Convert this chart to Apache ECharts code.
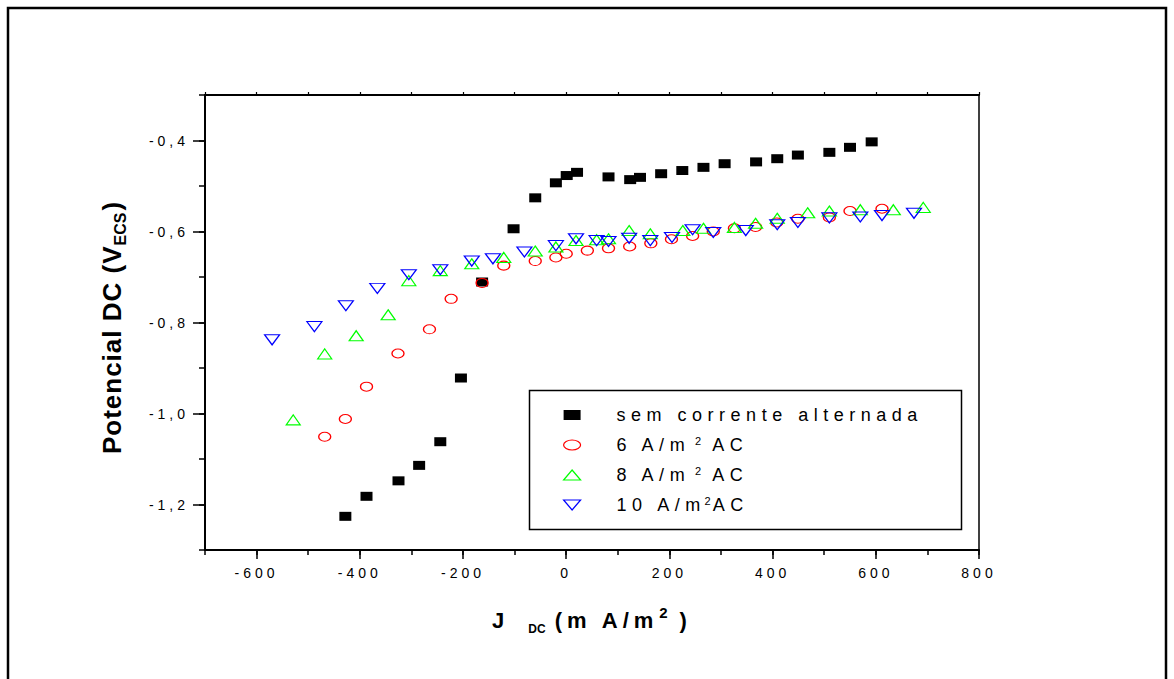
<!DOCTYPE html>
<html><head><meta charset="utf-8">
<script src="https://cdn.jsdelivr.net/npm/echarts@6/dist/echarts.min.js"></script>
<style>
html,body{margin:0;padding:0;background:#fff;}
#main{width:1174px;height:679px;}
#main text{letter-spacing:0;}
#main text[style*="14px"]{letter-spacing:4px;}
#main text[style*="18px"]{letter-spacing:5.5px;}
#main text[style*="22px"]{letter-spacing:5px;}
#main text[style*="26px"]{letter-spacing:1px;}
</style></head><body><div id="main"></div>
<script>
// ---- data ----
const seriesNames = ['sem corrente alternada', '6 A/m² AC', '8 A/m² AC', '10 A/m²AC'];
const xLabelValues = [-600, -400, -200, 0, 200, 400, 600, 800];
const yLabelValues = [-1.2, -1.0, -0.8, -0.6, -0.4];

const blackX = [-428,-387,-325,-285,-244,-204,-163,-102,-60,-20,1,21,82,124,143,184,225,266,307,368,409,449,510,550,592];
const blackY = [-1.226,-1.182,-1.148,-1.114,-1.062,-0.922,-0.711,-0.594,-0.526,-0.493,-0.477,-0.470,-0.480,-0.486,-0.481,-0.473,-0.466,-0.459,-0.451,-0.447,-0.440,-0.432,-0.426,-0.415,-0.403];

const redX = [-468,-428,-387,-326,-265,-223,-163,-121,-60,-20,0,41,82,123,164,204,245,285,326,367,408,449,510,550,612];
const redY = [-1.051,-1.012,-0.941,-0.868,-0.815,-0.748,-0.713,-0.675,-0.665,-0.657,-0.649,-0.642,-0.637,-0.633,-0.626,-0.617,-0.610,-0.600,-0.593,-0.590,-0.580,-0.572,-0.569,-0.555,-0.550];

const greenX = [-529,-468,-407,-345,-305,-244,-183,-121,-60,-20,19,59,82,122,163,226,266,326,367,409,468,510,570,634,692];
const greenY = [-1.014,-0.869,-0.829,-0.783,-0.708,-0.686,-0.671,-0.657,-0.643,-0.634,-0.620,-0.618,-0.616,-0.598,-0.605,-0.598,-0.593,-0.591,-0.582,-0.571,-0.559,-0.555,-0.552,-0.552,-0.547];

const blueX = [-570,-488,-427,-366,-305,-244,-183,-142,-81,-20,19,59,82,122,163,205,245,285,348,409,449,510,570,612,674];
const blueY = [-0.838,-0.809,-0.763,-0.725,-0.695,-0.684,-0.665,-0.660,-0.645,-0.631,-0.616,-0.620,-0.622,-0.615,-0.620,-0.613,-0.596,-0.602,-0.598,-0.585,-0.580,-0.570,-0.568,-0.565,-0.560];

// ---- helpers ----
const FONT = 'Liberation Sans, Arial, sans-serif';
const SP = {14: 4, 18: 5.5, 22: 5, 26: 1};
function zip(xs, ys) { return xs.map((x, i) => [x, ys[i]]); }
function buildRich(tokens, prefix, rich) {
  return tokens.map((tk, i) => {
    const name = prefix + i;
    const sp = SP[tk.fs] || 0;
    const st = {
      fontSize: tk.fs, fontFamily: FONT, fontWeight: tk.bold ? 'bold' : 'normal',
      color: '#000', lineHeight: tk.lh, align: 'left',
      padding: [0, tk.t.length * sp + (tk.pr || 0), 0, tk.pl || 0]
    };
    if (tk.va) st.verticalAlign = tk.va;
    rich[name] = st;
    return '{' + name + '|' + tk.t + '}';
  }).join('');
}

const CIRCLE = 'path://M0,5C0,2.24 2.24,0 5,0C7.76,0 10,2.24 10,5C10,7.76 7.76,10 5,10C2.24,10 0,7.76 0,5Z';
const DOWN = 'path://M0,0L10,0L5,10Z';

// legend rich text
const legendRich = {};
const legendText = {};
legendText[seriesNames[0]] = buildRich([{t: 'sem corrente alternada', fs: 18, lh: 20, pl: 31}], 'la', legendRich);
legendText[seriesNames[1]] = buildRich([
  {t: '6 A/m', fs: 18, lh: 20, pl: 31, pr: 4}, {t: '2', fs: 11, lh: 2, va: 'top', pr: 11}, {t: 'AC', fs: 18, lh: 20}], 'lb', legendRich);
legendText[seriesNames[2]] = buildRich([
  {t: '8 A/m', fs: 18, lh: 20, pl: 31, pr: 4}, {t: '2', fs: 11, lh: 2, va: 'top', pr: 11}, {t: 'AC', fs: 18, lh: 20}], 'lc', legendRich);
legendText[seriesNames[3]] = buildRich([
  {t: '10 A/m', fs: 18, lh: 20, pl: 31, pr: -2}, {t: '2', fs: 11, lh: 2, va: 'top', pr: 2}, {t: 'AC', fs: 18, lh: 20}], 'ld', legendRich);

// axis titles
const xNameRich = {};
const xName = buildRich([
  {t: 'J', fs: 22, bold: true, lh: 30, pr: 19},
  {t: 'DC', fs: 12, bold: true, lh: 8, va: 'bottom', pr: 9},
  {t: '(m A/m', fs: 22, bold: true, lh: 30, pr: 0},
  {t: '2', fs: 15, bold: true, lh: 8, va: 'top', pr: 12},
  {t: ')', fs: 22, bold: true, lh: 30}
], 'xn', xNameRich);
const yNameRich = {};
const yName = buildRich([
  {t: 'Potencial DC (V', fs: 26, bold: true, lh: 32},
  {t: 'ECS', fs: 16, bold: true, lh: 2, va: 'bottom', pr: 2},
  {t: ')', fs: 26, bold: true, lh: 32}
], 'yn', yNameRich);

const chart = echarts.init(document.getElementById('main'), null, {renderer: 'svg'});
chart.setOption({
  backgroundColor: '#fff',
  animation: false,
  grid: {left: 205, top: 95, right: 195, bottom: 129},
  graphic: [
    {type: 'rect', shape: {x: 8, y: 8, width: 1158, height: 700}, style: {fill: 'none', stroke: '#000', lineWidth: 2.5}, silent: true, z: 100},
    {type: 'rect', shape: {x: 529.5, y: 390.5, width: 432, height: 139}, style: {fill: '#fff', stroke: '#000', lineWidth: 1.5}, silent: true, z: 1}
  ],
  legend: {
    orient: 'vertical', left: 563, top: 406, padding: 0, itemGap: 11,
    itemWidth: 17, itemHeight: 10, symbolKeepAspect: false, z: 5,
    itemStyle: {borderWidth: 1.2, opacity: 1},
    data: [
      {name: seriesNames[0], icon: 'rect'},
      {name: seriesNames[1], icon: CIRCLE},
      {name: seriesNames[2], icon: 'triangle'},
      {name: seriesNames[3], icon: DOWN}
    ],
    formatter: name => legendText[name],
    textStyle: {fontFamily: FONT, fontSize: 18, color: '#000', rich: legendRich}
  },
  xAxis: [
    {type: 'value', position: 'bottom', min: -700, max: 800, interval: 100,
      name: xName, nameLocation: 'middle', nameGap: 55,
      nameTextStyle: {rich: xNameRich, fontFamily: FONT},
      axisLine: {onZero: false, lineStyle: {color: '#000', width: 2}},
      axisTick: {show: true, length: 5, lineStyle: {color: '#000', width: 1.5}},
      axisLabel: {customValues: xLabelValues, margin: 16, fontSize: 14, fontFamily: FONT, color: '#000'},
      splitLine: {show: false}},
    {type: 'value', position: 'bottom', min: -700, max: 800,
      axisLine: {show: false, onZero: false},
      axisTick: {show: true, customValues: xLabelValues, length: 9, lineStyle: {color: '#000', width: 1.5}},
      axisLabel: {show: false}, splitLine: {show: false}},
    {type: 'value', position: 'top', min: -700, max: 800, interval: 100,
      axisLine: {onZero: false, lineStyle: {color: '#000', width: 2}},
      axisTick: {show: true, length: 3, lineStyle: {color: '#000', width: 1.2}},
      axisLabel: {show: false}, splitLine: {show: false}}
  ],
  yAxis: [
    {type: 'value', position: 'left', min: -1.3, max: -0.3, interval: 0.1,
      name: yName, nameLocation: 'middle', nameGap: 77, nameRotate: 90,
      nameTextStyle: {rich: yNameRich, fontFamily: FONT, padding: [0, 10, 0, 0]},
      axisLine: {onZero: false, lineStyle: {color: '#000', width: 2}},
      axisTick: {show: true, length: 6, lineStyle: {color: '#000', width: 1.5}},
      axisLabel: {customValues: yLabelValues, margin: 16, fontSize: 14, fontFamily: FONT, color: '#000',
        formatter: v => v.toFixed(1).replace('.', ',')},
      splitLine: {show: false}},
    {type: 'value', position: 'left', min: -1.3, max: -0.3,
      axisLine: {show: false, onZero: false},
      axisTick: {show: true, customValues: yLabelValues, length: 12, lineStyle: {color: '#000', width: 1.5}},
      axisLabel: {show: false}, splitLine: {show: false}},
    {type: 'value', position: 'right', min: -1.3, max: -0.3,
      axisLine: {onZero: false, lineStyle: {color: '#000', width: 1.5}},
      axisTick: {show: false}, axisLabel: {show: false}, splitLine: {show: false}}
  ],
  series: [
    {name: seriesNames[0], type: 'scatter', data: zip(blackX, blackY), symbol: 'rect', symbolSize: [12, 9],
      itemStyle: {color: '#000', borderWidth: 0, opacity: 1}, z: 2},
    {name: seriesNames[1], type: 'scatter', data: zip(redX, redY), symbol: CIRCLE, symbolSize: [12, 9],
      itemStyle: {color: 'rgba(0,0,0,0)', borderColor: '#ff0000', borderWidth: 1.2, opacity: 1}, z: 3},
    {name: seriesNames[2], type: 'scatter', data: zip(greenX, greenY), symbol: 'triangle', symbolSize: [14, 10],
      itemStyle: {color: 'rgba(0,0,0,0)', borderColor: '#00ff00', borderWidth: 1.2, opacity: 1}, z: 4},
    {name: seriesNames[3], type: 'scatter', data: zip(blueX, blueY), symbol: DOWN, symbolSize: [15, 10],
      itemStyle: {color: 'rgba(0,0,0,0)', borderColor: '#0000ff', borderWidth: 1.2, opacity: 1}, z: 5}
  ]
});
</script></body></html>
